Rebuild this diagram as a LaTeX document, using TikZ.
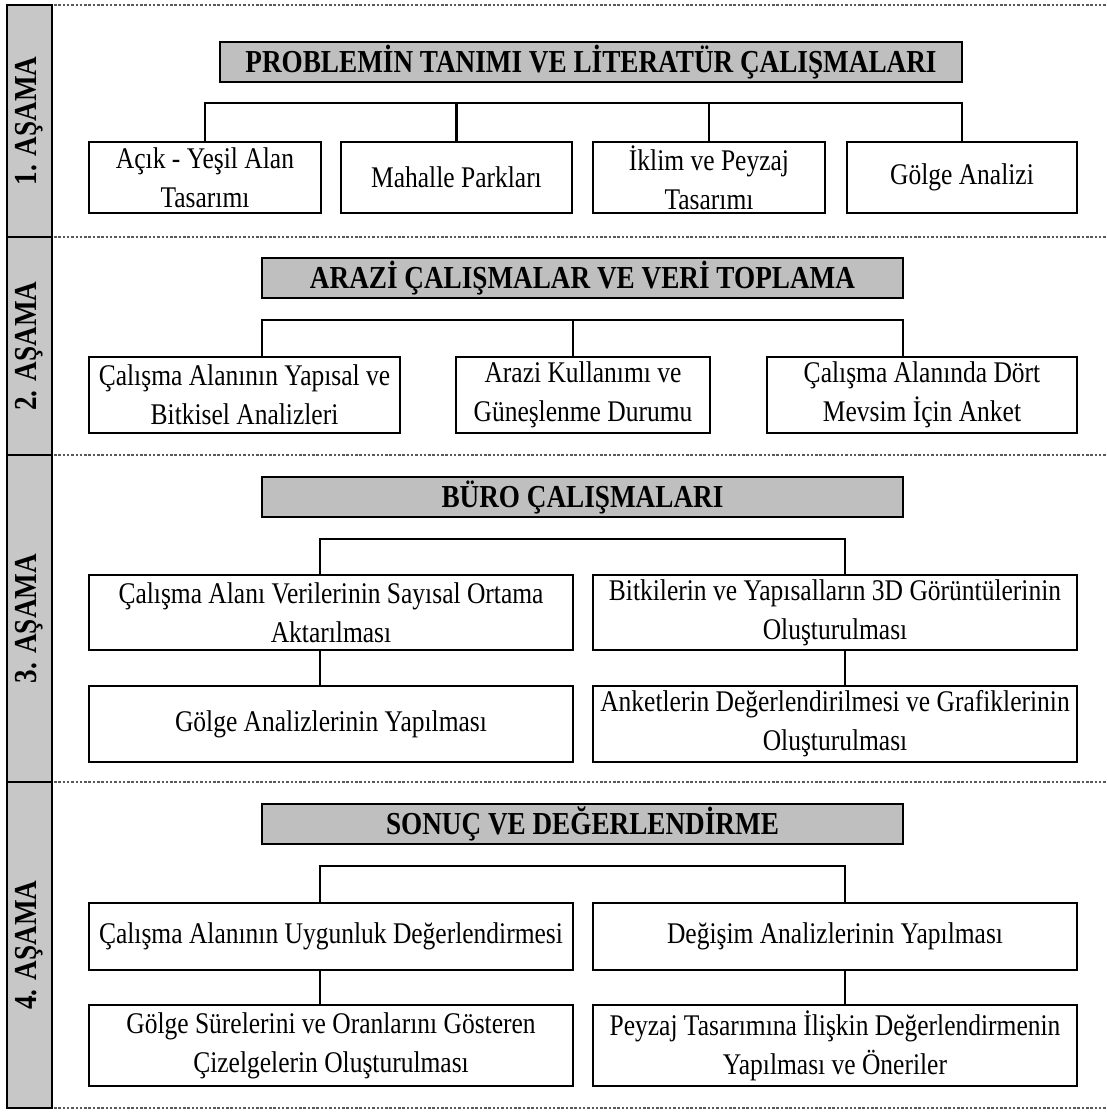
\documentclass[tikz,border=0pt]{standalone}
\usepackage{fontspec}
\setmainfont{Liberation Serif}[FakeStretch=0.85]
\begin{document}
\begin{tikzpicture}[x=1pt,y=-1pt,
  box/.style={draw=black,line width=2.8pt,fill=white,inner sep=2pt,align=center,
    font=\fontsize{30}{39}\selectfont},
  head/.style={draw=black,line width=2.8pt,fill=black!25,inner sep=0pt,align=center,
    minimum height=40pt,font=\fontsize{32}{38}\selectfont\bfseries},
  conn/.style={draw=black,line width=2.8pt},
  sep/.style={draw=black!65,line width=1.4pt,dash pattern=on 2.5pt off 1.8pt},
  stage/.style={rotate=90,font=\fontsize{32}{38}\selectfont\bfseries,inner sep=0pt}
]
\useasboundingbox (0,0) rectangle (1107,1113);
\fill[white] (0,0) rectangle (1107,1113);

% left stage strip
\draw[line width=2.6pt,fill=black!22] (7,5) rectangle (52,1108);
\draw[line width=2.6pt] (7,237) -- (52,237) (7,455) -- (52,455) (7,782) -- (52,782);
\node[stage] (s1) at (29.5,121) {1. AŞAMA};
\node[stage] (s2) at (29.5,346) {2. AŞAMA};
\node[stage] (s3) at (29.5,618.5) {3. AŞAMA};
\node[stage] (s4) at (29.5,945) {4. AŞAMA};

% dotted separators
\foreach \yy in {5,237,455,782,1108} \draw[sep] (54,\yy) -- (1107,\yy);

% ---------- Section 1 ----------
\node[head,minimum width=742pt] (h1) at (591,62) {PROBLEMİN TANIMI VE LİTERATÜR ÇALIŞMALARI};
\node[box,minimum width=232pt,minimum height=71pt] (b11) at (205,177.5) {Açık - Yeşil Alan\\Tasarımı};
\node[box,minimum width=231pt,minimum height=71pt] (b12) at (456.5,177.5) {Mahalle Parkları};
\node[box,minimum width=232pt,minimum height=71pt] (b13) at (709,177.5) {İklim ve Peyzaj\\Tasarımı};
\node[box,minimum width=230pt,minimum height=71pt] (b14) at (962,177.5) {Gölge Analizi};
\coordinate (k1) at (0,103);
\draw[conn] (b11.north) -- (b11.north |- k1) -- (b14.north |- k1) -- (b14.north);
\draw[conn] (b12.north) -- (b12.north |- k1);
\draw[conn] (b13.north) -- (b13.north |- k1);

% ---------- Section 2 ----------
\node[head,minimum width=641pt] (h2) at (582.5,278) {ARAZİ ÇALIŞMALAR VE VERİ TOPLAMA};
\node[box,minimum width=311pt,minimum height=76pt] (b21) at (244.5,395) {Çalışma Alanının Yapısal ve\\Bitkisel Analizleri};
\node[box,minimum width=254pt,minimum height=76pt] (b22) at (583,395) {Arazi Kullanımı ve\\Güneşlenme Durumu};
\node[box,minimum width=310pt,minimum height=76pt] (b23) at (922,395) {Çalışma Alanında Dört\\Mevsim İçin Anket};
\coordinate (v21) at (262,320);
\coordinate (v22) at (573,320);
\coordinate (v23) at (903,320);
\draw[conn] (v21 |- b21.north) -- (v21) -- (v23) -- (v23 |- b23.north);
\draw[conn] (v22) -- (v22 |- b22.north);

% ---------- Section 3 ----------
\node[head,minimum width=641pt] (h3) at (582.5,497) {BÜRO ÇALIŞMALARI};
\node[box,minimum width=484pt,minimum height=75pt] (b31) at (331,612.5) {Çalışma Alanı Verilerinin Sayısal Ortama\\Aktarılması};
\node[box,minimum width=484pt,minimum height=75pt] (b32) at (835,612.5) {Bitkilerin ve Yapısalların 3D Görüntülerinin\\Oluşturulması};
\node[box,minimum width=484pt,minimum height=76pt] (b33) at (331,724) {Gölge Analizlerinin Yapılması};
\node[box,minimum width=484pt,minimum height=76pt] (b34) at (835,724) {Anketlerin Değerlendirilmesi ve Grafiklerinin\\Oluşturulması};
\coordinate (v31) at (320,539);
\coordinate (v32) at (845,539);
\draw[conn] (v31 |- b31.north) -- (v31) -- (v32) -- (v32 |- b32.north);
\draw[conn] (v31 |- b31.south) -- (v31 |- b33.north);
\draw[conn] (v32 |- b32.south) -- (v32 |- b34.north);

% ---------- Section 4 ----------
\node[head,minimum width=641pt] (h4) at (582.5,824) {SONUÇ VE DEĞERLENDİRME};
\node[box,minimum width=484pt,minimum height=67pt] (b41) at (331,936.5) {Çalışma Alanının Uygunluk Değerlendirmesi};
\node[box,minimum width=484pt,minimum height=67pt] (b42) at (835,936.5) {Değişim Analizlerinin Yapılması};
\node[box,minimum width=484pt,minimum height=81pt] (b43) at (331,1045.5) {Gölge Sürelerini ve Oranlarını Gösteren\\Çizelgelerin Oluşturulması};
\node[box,minimum width=484pt,minimum height=81pt] (b44) at (835,1045.5) {Peyzaj Tasarımına İlişkin Değerlendirmenin\\Yapılması ve Öneriler};
\coordinate (v41) at (320,866);
\coordinate (v42) at (845,866);
\draw[conn] (v41 |- b41.north) -- (v41) -- (v42) -- (v42 |- b42.north);
\draw[conn] (v41 |- b41.south) -- (v41 |- b43.north);
\draw[conn] (v42 |- b42.south) -- (v42 |- b44.north);
\end{tikzpicture}
\end{document}
